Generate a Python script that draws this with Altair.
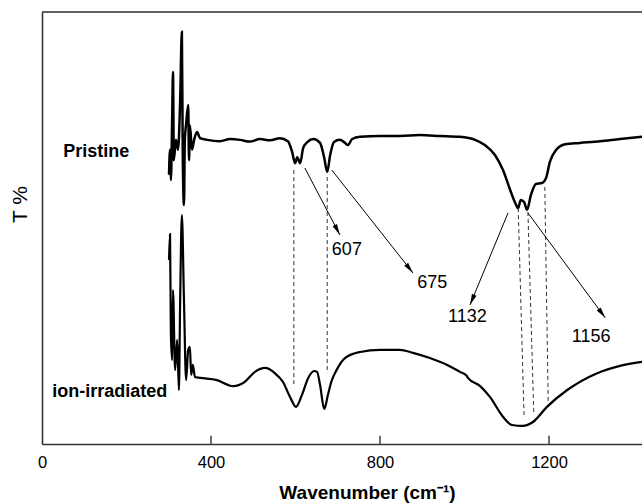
import math
import altair as alt
import pandas as pd

# ---------------- data ----------------
pristine_wn = [300.6, 303, 305, 308, 310, 312, 317, 322, 327, 331, 333, 336, 338, 341, 346, 348,
               350, 355, 360, 367, 374, 391, 421, 445, 469, 492, 516, 540, 563, 582, 592, 599,
               604, 611, 618, 628, 642, 658, 668, 675, 682, 691, 705, 717, 724, 734, 753, 800,
               847, 895, 942, 989, 1025, 1048, 1072, 1091, 1108, 1120, 1127, 1133, 1141, 1148,
               1157, 1169, 1183, 1193, 1202, 1217, 1238, 1273, 1321, 1368, 1420]
pristine_t = [62.3, 68.1, 61.1, 75.0, 86.1, 65.7, 70.4, 68.1, 79.6, 95.4, 68.1, 55.3, 70.4, 74.0, 78.5, 65.7,
              73.8, 68.1, 70.4, 72.2, 70.8, 70.4, 70.1, 70.6, 70.4, 70.0, 70.6, 70.3, 70.8, 70.1, 67.6, 65.0,
              66.4, 65.0, 68.5, 69.9, 70.6, 69.7, 66.2, 63.0, 66.9, 69.9, 70.4, 69.7, 69.2, 70.6, 71.1, 71.3,
              71.3, 71.5, 71.3, 71.1, 70.4, 69.2, 66.9, 63.4, 58.8, 55.8, 54.6, 56.5, 56.0, 54.2,
              57.6, 60.2, 60.4, 61.6, 65.3, 68.1, 69.4, 69.7, 70.1, 70.6, 71.1]

ion_wn = [300.6, 303, 305, 308, 310, 315, 320, 324, 327, 331, 336, 341, 346, 350, 353, 357, 362,
          374, 414, 452, 480, 504, 528, 551, 570, 587, 601, 615, 630, 644, 651, 658, 668, 677, 685,
          697, 717, 753, 800, 847, 878, 918, 959, 989, 1005, 1008, 1037, 1060, 1091, 1112, 1138,
          1162, 1195, 1243, 1314, 1368, 1420]
ion_t = [42.6, 48.6, 25.5, 19.4, 35.6, 17.1, 24.1, 12.5, 33.3, 53.0, 33.3, 14.8, 21.8, 22.5, 16.0, 18.3, 15.5,
         15.3, 14.8, 13.4, 14.4, 16.7, 17.6, 16.4, 14.4, 10.9, 8.6, 11.3, 15.3, 16.9, 16.7, 13.7, 8.1, 11.5, 14.5,
         17.1, 19.9, 21.3, 21.8, 21.8, 21.1, 19.9, 18.3, 16.7, 15.8, 15.3, 13.4, 10.9, 6.3, 4.4, 4.2,
         5.1, 8.6, 12.5, 16.4, 18.1, 19.0]

# dashed guide lines (start wn, end wn, start T, end T)
dash_x1 = [596, 675, 1127, 1150, 1190]
dash_x2 = [596, 675, 1141, 1164, 1198]
dash_y1 = [63.4, 61.8, 54.6, 53.7, 59.5]
dash_y2 = [13.2, 16.4, 6.0, 6.7, 9.7]

# arrows (tail -> tip)
arrow_x1 = [622, 686, 1103, 1150]
arrow_y1 = [63.9, 63.4, 53.5, 53.5]
arrow_x2 = [705, 878, 1013, 1333]
arrow_y2 = [48.4, 39.6, 32.2, 29.2]

peak_labels = ["607", "675", "1132", "1156"]
peak_label_x = [686, 888, 961, 1254]
peak_label_y = [44.9, 37.3, 29.4, 24.8]

series_labels = ["Pristine", "ion-irradiated"]
series_label_x = [50, 24]
series_label_y = [67.6, 12.0]

tick_values = [0, 400, 800, 1200]
inner_ticks = [400, 800, 1200]

X_MAX = 1420
W, H = 600, 432
FONT = "Liberation Sans"

# ---------------- tables ----------------
df_p = pd.DataFrame({"x": pristine_wn, "y": pristine_t})
df_i = pd.DataFrame({"x": ion_wn, "y": ion_t})
df_dash = pd.DataFrame({"x": dash_x1, "x2": dash_x2, "y": dash_y1, "y2": dash_y2})
df_arrow = pd.DataFrame({"x": arrow_x1, "x2": arrow_x2, "y": arrow_y1, "y2": arrow_y2})

heads = []
for x1, y1, x2, y2 in zip(arrow_x1, arrow_y1, arrow_x2, arrow_y2):
    px1, py1 = x1 / X_MAX * W, (100 - y1) / 100 * H
    px2, py2 = x2 / X_MAX * W, (100 - y2) / 100 * H
    dx, dy = px2 - px1, py2 - py1
    L = math.hypot(dx, dy)
    ux, uy = dx / L, dy / L
    ang = math.degrees(math.atan2(dx, -dy)) % 360
    cx, cy = px2 - 5.5 * ux, py2 - 5.5 * uy
    heads.append({"x": cx / W * X_MAX, "y": 100 - cy / H * 100, "angle": ang})
df_heads = pd.DataFrame(heads)

df_peak = pd.DataFrame({"x": peak_label_x, "y": peak_label_y, "t": peak_labels})
df_series = pd.DataFrame({"x": series_label_x, "y": series_label_y, "t": series_labels})
df_ticks = pd.DataFrame({"x": inner_ticks, "y": [0] * 3, "y2": [1.9] * 3})
df_top = pd.DataFrame({"x": [0], "x2": [X_MAX], "y": [100]})

xscale = alt.Scale(domain=[0, X_MAX], nice=False, zero=False)
yscale = alt.Scale(domain=[0, 100], nice=False, zero=False)

x_axis = alt.Axis(values=tick_values, format="d", title="Wavenumber (cm\u207b\u00b9)",
                  ticks=False, tickSize=0, grid=False, labelFontSize=16.5, labelPadding=10,
                  labelColor="black", labelFont=FONT, domainColor="#333", domainWidth=1.6,
                  titleFont=FONT, titleFontSize=19, titleFontWeight="bold", titleColor="black",
                  titleX=325, titleY=54, titleBaseline="alphabetic", titleAlign="center",
                  labelFlush=False)
y_axis = alt.Axis(labels=False, ticks=False, tickSize=0, grid=False, title="T %",
                  domainColor="#333", domainWidth=1.6, titleFont=FONT, titleFontSize=21,
                  titleFontWeight="normal", titleColor="black", titleX=-22, titleY=192,
                  titleAngle=270, titleAlign="center", titleBaseline="middle")


def X():
    return alt.X("x:Q", scale=xscale, axis=x_axis)


def Y():
    return alt.Y("y:Q", scale=yscale, axis=y_axis)


pristine = alt.Chart(df_p).mark_line(color="black", strokeWidth=2.5, interpolate="monotone").encode(x=X(), y=Y())
ion = alt.Chart(df_i).mark_line(color="black", strokeWidth=2.2, interpolate="monotone").encode(x=X(), y=Y())

dashes = alt.Chart(df_dash).mark_rule(color="#333", strokeWidth=1, strokeDash=[4, 3]).encode(
    x=X(), x2="x2:Q", y=Y(), y2="y2:Q")
shafts = alt.Chart(df_arrow).mark_rule(color="black", strokeWidth=1).encode(
    x=X(), x2="x2:Q", y=Y(), y2="y2:Q")
arrowheads = alt.Chart(df_heads).mark_point(
    shape="M0,-1L0.45,1L-0.45,1Z", filled=True, color="black", opacity=1, size=121, strokeWidth=0
).encode(x=X(), y=Y(), angle=alt.Angle("angle:Q", scale=None))

peak_text = alt.Chart(df_peak).mark_text(align="left", baseline="middle", fontSize=18, font=FONT,
                                         color="black").encode(x=X(), y=Y(), text="t:N")
series_text = alt.Chart(df_series).mark_text(align="left", baseline="middle", fontSize=18, font=FONT,
                                             fontWeight="bold", color="black").encode(x=X(), y=Y(), text="t:N")

ticks = alt.Chart(df_ticks).mark_rule(color="#333", strokeWidth=1.4).encode(x=X(), y=Y(), y2="y2:Q")
top = alt.Chart(df_top).mark_rule(color="#333", strokeWidth=1.6).encode(x=X(), x2="x2:Q", y=Y())

chart = alt.layer(pristine, ion, dashes, shafts, arrowheads, peak_text, series_text, ticks, top).properties(
    width=W, height=H,
    autosize=alt.AutoSizeParams(type="none"),
    padding={"left": 42, "top": 12, "right": 0, "bottom": 60},
).configure_view(stroke=None).configure(background="white")

chart.save("out.html", embed_options={"renderer": "svg", "actions": False})
